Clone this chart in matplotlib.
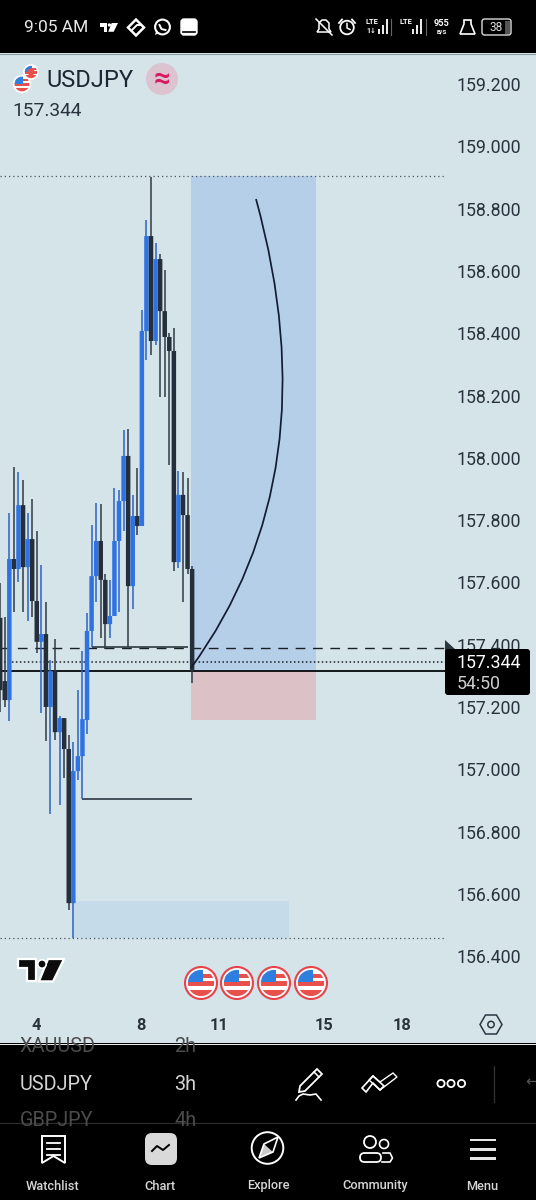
import matplotlib
matplotlib.use('Agg')
import matplotlib.pyplot as plt
import numpy as np
from matplotlib.patches import Circle, FancyBboxPatch, PathPatch, Polygon, Rectangle
from matplotlib.path import Path

plt.rcParams['font.family'] = ['Roboto', 'DejaVu Sans']

# 3h candles
opens = [157.486, 157.283, 157.222, 157.675, 157.643, 157.848, 157.649, 157.739, 157.540, 157.409, 157.434,
         157.200, 157.315, 157.119, 157.164, 157.065, 156.570, 156.994, 157.042, 157.158, 157.444, 157.620,
         157.733, 157.608, 157.466, 157.492, 157.733, 157.861, 158.006, 157.588, 157.813, 157.781, 158.407,
         158.712, 158.375, 158.638, 158.471, 158.388, 158.343, 157.665, 157.881, 157.816, 157.643]
highs = [157.598, 157.489, 157.823, 157.970, 157.954, 157.929, 157.823, 157.868, 157.765, 157.656, 157.537,
         157.351, 157.418, 157.171, 157.164, 157.110, 157.087, 157.254, 157.380, 157.502, 157.784, 157.855,
         157.852, 157.627, 157.608, 157.903, 157.897, 158.089, 158.092, 157.881, 157.967, 158.474, 158.763,
         158.901, 158.689, 158.654, 158.603, 158.401, 158.417, 157.958, 157.954, 157.935, 157.653]
lows = [157.184, 157.200, 157.155, 157.505, 157.601, 157.505, 157.476, 157.489, 157.373, 157.181, 157.091,
        156.856, 157.094, 156.885, 156.972, 156.548, 156.458, 156.965, 156.904, 157.113, 157.392, 157.537,
        157.421, 157.386, 157.421, 157.492, 157.505, 157.765, 157.392, 157.515, 157.752, 157.781, 158.314,
        158.330, 158.362, 158.195, 158.195, 157.977, 157.637, 157.646, 157.537, 157.627, 157.277]
closes = [157.254, 157.222, 157.675, 157.643, 157.848, 157.649, 157.739, 157.540, 157.409, 157.434, 157.200,
          157.315, 157.119, 157.164, 157.065, 156.570, 156.994, 157.042, 157.161, 157.444, 157.620, 157.733,
          157.608, 157.466, 157.492, 157.733, 157.861, 158.006, 157.588, 157.813, 157.781, 158.407, 158.712,
          158.375, 158.638, 158.471, 158.388, 158.343, 157.665, 157.881, 157.816, 157.643, 157.319]

price_ticks = [156.4, 156.6, 156.8, 157.0, 157.2, 157.4, 157.6, 157.8, 158.0, 158.2, 158.4, 158.6, 158.8, 159.0, 159.2]
date_bars = [7.8, 30.8, 47.9, 70.9, 87.9]
date_labels = ['4', '8', '11', '15', '18']

# levels and drawings
long_bars = [41.75, 69.1]
long_prices = [158.905, 157.318, 157.158]
zone_bars = [15.9, 63.2]
zone_prices = [156.458, 156.577]
upper_dotted = 158.905
lower_dotted = 156.458
dashed_level = 157.389
last_dotted = 157.344
solid_level = 157.316
seg1 = (20.0, 41.1, 157.394)
seg2 = (17.9, 41.9, 156.904)
curve_bars = [41.75, 72.6, 55.97]
curve_prices = [157.325, 157.948, 158.831]

BG = '#d5e4e8'
BLUE = '#2f72e2'
DARK = '#252f3b'
TXT = '#29333d'

fig = plt.figure(figsize=(5.36, 12), dpi=100, facecolor=BG)

# price pane, 54..1008 px down and 0..445 px across
ax = fig.add_axes([0, (1200 - 1008) / 1200, 445 / 536, (1008 - 54) / 1200], facecolor=BG, zorder=1)
ax.set_xlim(-0.044, 97.33)
ax.set_ylim(159.470 - 0.003211 * 1008, 159.470 - 0.003211 * 54)
for s in ax.spines.values():
    s.set_visible(False)

ax.add_patch(Rectangle((long_bars[0], long_prices[1]), long_bars[1] - long_bars[0], long_prices[0] - long_prices[1],
                       fc='#b5cfe8', ec='none', zorder=1))
ax.add_patch(Rectangle((long_bars[0], long_prices[2]), long_bars[1] - long_bars[0], long_prices[1] - long_prices[2],
                       fc='#dcc1c6', ec='none', zorder=1))
ax.add_patch(Rectangle((zone_bars[0], zone_prices[0]), zone_bars[1] - zone_bars[0], zone_prices[1] - zone_prices[0],
                       fc='#c5dbea', ec='none', zorder=1))

ax.axhline(upper_dotted, color='#4a5560', lw=0.9, ls=(0, (1, 2.4)), zorder=2)
ax.axhline(lower_dotted, color='#4a5560', lw=0.9, ls=(0, (1, 2.4)), zorder=2)
ax.axhline(dashed_level, color='#1a1f26', lw=1.0, ls=(0, (7, 5.5)), zorder=2)
ax.axhline(last_dotted, color='#1a1f26', lw=1.1, ls=(0, (1, 1.6)), zorder=2)
ax.axhline(solid_level, color='#12171c', lw=1.4, zorder=2)
ax.hlines(seg1[2], seg1[0], seg1[1], color='#1f2a33', lw=1.1, zorder=2)
ax.hlines(seg2[2], seg2[0], seg2[1], color='#2b3640', lw=1.2, zorder=2)

idx = np.arange(len(opens))
o = np.array(opens)
c = np.array(closes)
colors = [BLUE if b > a else DARK for a, b in zip(opens, closes)]
wick_colors = ['#2b62c4' if b > a else '#303a45' for a, b in zip(opens, closes)]
ax.vlines(idx, lows, highs, colors=wick_colors, lw=1.1, zorder=3)
bars = ax.bar(idx, np.abs(c - o), bottom=np.minimum(o, c), width=0.98, color=colors, linewidth=0, zorder=4)
for b in bars:
    b.set_snap(False)

curve = Path(list(zip(curve_bars, curve_prices)), [Path.MOVETO, Path.CURVE3, Path.CURVE3])
ax.add_patch(PathPatch(curve, fc='none', ec='#141c33', lw=1.25, zorder=5))

ax.yaxis.tick_right()
ax.set_yticks(price_ticks, [f'{p:.3f}' for p in price_ticks])
ax.set_xticks(date_bars, date_labels)
ax.tick_params(axis='y', length=0, pad=8.6, labelsize=12.8, labelcolor=TXT)
ax.tick_params(axis='x', length=0, pad=7, labelsize=11.8, labelcolor=TXT)
for t in ax.get_xticklabels():
    t.set_fontweight('bold')

# everything else on the screen, in plain pixels
ui = fig.add_axes([0, 0, 1, 1], zorder=2)
ui.set_xlim(0, 536)
ui.set_ylim(1200, 0)
ui.axis('off')
ui.patch.set_alpha(0)


def flag(cx, cy, r, ring='#e8424a', lw=1.5):
    ui.add_patch(Circle((cx, cy), r, fc='white', ec=ring, lw=lw, zorder=3))
    inner = Circle((cx, cy), r * 0.82, transform=ui.transData)
    parts = [Rectangle((cx - r, cy - r * 0.1), 2 * r, r * 0.3, fc='#e8504c', ec='none'),
             Rectangle((cx - r, cy + r * 0.42), 2 * r, r * 0.6, fc='#e8504c', ec='none'),
             Rectangle((cx - r, cy - r * 0.55), 2 * r, r * 0.22, fc='#e8504c', ec='none'),
             Rectangle((cx - r, cy - r), r * 1.15, r * 0.95, fc='#2f7fe0', ec='none')]
    for p in parts:
        ui.add_patch(p)
        p.set_zorder(4)
        p.set_clip_path(inner)


def tv_logo(x, y, s, color, edge=None):
    # s is the width of the logo
    k = s / 46.0
    ky = k * 1.12
    pts1 = [(0, 0), (18, 0), (18, 20), (9, 20), (9, 8), (0, 8)]
    pts2 = [(30, 0), (46, 0), (35, 20), (21, 20)]
    for pts in (pts1, pts2):
        ui.add_patch(Polygon([(x + a * k, y + b * ky) for a, b in pts], fc=color,
                             ec=edge if edge else color, lw=1.6 if edge else 0, zorder=5))
    ui.add_patch(Circle((x + 24 * k, y + 4.5 * ky), 4.2 * k, fc=color, ec=edge if edge else color,
                        lw=1.2 if edge else 0, zorder=5))


# status bar
ui.add_patch(Rectangle((0, 0), 536, 53, fc='black', ec='none'))
ui.plot([0, 536], [53.5, 53.5], color='#8fa0a5', lw=0.8)
ui.text(24.5, 27.5, '9:05 AM', color='#e8e8e8', fontsize=12.5, va='center')
tv_logo(100, 23, 18, 'white')
ui.add_patch(Polygon([(128, 27.5), (136, 19.5), (144, 27.5), (136, 35.5)], fc='none', ec='white', lw=1.8))
ui.plot([132, 137, 140], [30, 25, 25], color='white', lw=1.4)
ui.add_patch(Circle((162.5, 27), 7.4, fc='none', ec='white', lw=1.5))
ui.add_patch(Polygon([(155, 35), (156.5, 30), (159, 33)], fc='white', ec='none'))
ui.plot([159.5, 161.5, 165.5], [25, 29, 30], color='white', lw=1.4)
ui.add_patch(FancyBboxPatch((181, 19), 16, 16, boxstyle='round,pad=0,rounding_size=3', fc='white', ec='white', lw=1))
ui.plot([183, 195], [31.5, 31.5], color='black', lw=1.2)
# bell, alarm
ui.add_patch(Polygon([(317, 32), (319, 29), (319, 23), (322, 20), (326, 20), (329, 23), (329, 29), (331, 32)],
                     fc='none', ec='white', lw=1.1))
ui.plot([316, 332], [19, 35], color='white', lw=1.1)
ui.add_patch(Circle((347, 27.5), 6.8, fc='none', ec='white', lw=1.3))
ui.plot([347, 347, 350], [23.5, 28, 29.5], color='white', lw=1.1)
ui.plot([339, 342], [23, 19.5], color='white', lw=1.3)
ui.plot([352, 355], [19.5, 23], color='white', lw=1.3)
ui.text(365, 22, 'LTE', color='white', fontsize=5.4, va='center', fontweight='bold')
ui.text(366, 31, '1↓', color='white', fontsize=5, va='center', fontweight='bold')
ui.text(400, 22, 'LTE', color='white', fontsize=5.4, va='center', fontweight='bold')
for x0 in (378, 412):
    for i, h in enumerate((5, 9, 15)):
        ui.add_patch(Rectangle((x0 + i * 4, 34 - h), 2.2, h, fc='#e8e8e8', ec='none'))
ui.plot([391, 391], [19, 35], color='#666666', lw=0.8)
ui.plot([426, 426], [19, 35], color='#666666', lw=0.8)
ui.text(442, 23, '955', color='white', fontsize=6.6, ha='center', va='center', fontweight='bold')
ui.text(442, 32.5, 'B/S', color='white', fontsize=4.6, ha='center', va='center', fontweight='bold')
ui.add_patch(Polygon([(464, 20), (471, 20), (471, 24), (475, 34), (460, 34), (464, 24)], fc='none', ec='white', lw=1.2))
ui.add_patch(FancyBboxPatch((482, 19), 29, 16, boxstyle='round,pad=0,rounding_size=2.5', fc='black', ec='#dddddd', lw=1))
ui.add_patch(Rectangle((505, 20.5), 5, 13, fc='#555555', ec='none'))
ui.text(496, 27.5, '38', color='#dddddd', fontsize=8.6, ha='center', va='center')

# header
flag(31, 72, 7.5, ring='white', lw=0.5)
ui.add_patch(Circle((31, 72), 3.6, fc='#e8504c', ec='none', zorder=5))
flag(22, 84, 9, ring='#f4f4f4', lw=0.5)
ui.text(46, 80.5, 'USDJPY', color='#1c2733', fontsize=17, va='center')
ui.text(12, 110.5, '157.344', color=TXT, fontsize=13.8, va='center')
ui.add_patch(Circle((162, 79), 16, fc='#dcc3d0', ec='none'))
ui.text(162, 78.5, '≈', color='#d81b60', fontsize=21, ha='center', va='center', fontweight='bold')

# last price tag
ui.add_patch(Polygon([(445, 640), (456, 650), (445, 652)], fc='#2b3640', ec='none'))
ui.add_patch(FancyBboxPatch((445, 649), 85, 46, boxstyle='round,pad=0,rounding_size=3', fc='black', ec='none'))
ui.text(457, 663, '157.344', color='white', fontsize=12.8, va='center')
ui.text(457, 684, '54:50', color='#cfcfcf', fontsize=12.8, va='center')

# logo, event flags, settings
tv_logo(18, 959, 46, '#0c0c0c', edge='white')
for fx in (201, 237, 274, 311):
    flag(fx, 983, 16)
ui.add_patch(Polygon([(480, 1024.5), (485.5, 1015), (496.5, 1015), (502, 1024.5), (496.5, 1034), (485.5, 1034)],
                     fc='none', ec='#2b3640', lw=1.1))
ui.add_patch(Circle((491, 1024.5), 3.2, fc='none', ec='#2b3640', lw=1.1))

# bottom bars
ui.add_patch(Rectangle((0, 1043), 536, 157, fc='black', ec='none'))
ui.plot([0, 536], [1043.5, 1043.5], color='#f2f2f2', lw=0.7)
ui.plot([0, 536], [1122.5, 1122.5], color='#2c2c2c', lw=0.9)
ui.text(19.5, 1084, 'USDJPY', color='#d4d4d4', fontsize=14.3, va='center')
ui.text(174, 1084, '3h', color='#d4d4d4', fontsize=14.3, va='center')
band_top = Rectangle((0, 1045), 300, 77, transform=ui.transData)
for label, lx, ly in [('XAUUSD', 19.5, 1047), ('2h', 174, 1047), ('GBPJPY', 19.5, 1121), ('4h', 174, 1121)]:
    t = ui.text(lx, ly, label, color='#4c4c4c', fontsize=14.3, va='center')
    t.set_clip_path(band_top)

# pencil
ui.add_patch(Polygon([(300, 1086), (317, 1069), (322, 1074), (305, 1091), (299, 1092)], fc='none', ec='white', lw=1.3))
ui.plot([314, 319], [1072, 1077], color='white', lw=1.1)
ui.plot([296, 299, 303, 310, 316, 321], [1100, 1096, 1094, 1095, 1094, 1100], color='white', lw=1.2)
# chevrons
ui.add_patch(Polygon([(362, 1088), (373, 1076), (384, 1086), (380, 1090), (373, 1083), (366, 1092)],
                     fc='none', ec='white', lw=1.2))
ui.add_patch(Polygon([(373, 1076), (380, 1082), (393, 1073), (397, 1077), (380, 1090), (369, 1080)],
                     fc='none', ec='white', lw=1.0))
for dx in (441, 451, 461.5):
    ui.add_patch(Circle((dx, 1083.5), 3.6, fc='none', ec='white', lw=1.3))
ui.plot([493.5, 493.5], [1066, 1102], color='#333333', lw=0.9)
ui.text(525, 1082, '←', color='#555555', fontsize=11, va='center', family=['DejaVu Sans'])

# tab bar
tabs = ['Watchlist', 'Chart', 'Explore', 'Community', 'Menu']
tab_x = [53, 160, 268, 375, 482]
for name, x in zip(tabs, tab_x):
    ui.text(x, 1186, name, color='#d6d6d6', fontsize=9.2, ha='center', va='center', fontweight='medium')

ui.add_patch(Polygon([(42, 1136), (65, 1136), (65, 1163), (53.5, 1156), (42, 1163)], fc='none', ec='white', lw=1.4))
for ly in (1143, 1149, 1155):
    ui.plot([47, 60], [ly, ly], color='white', lw=1.3)
ui.add_patch(FancyBboxPatch((145, 1133), 32, 32, boxstyle='round,pad=0,rounding_size=7', fc='#d9d9d9', ec='none'))
ui.plot([152, 157, 163, 169], [1151, 1146, 1150, 1145], color='black', lw=1.4)
ui.add_patch(Circle((267.5, 1148), 15.8, fc='none', ec='white', lw=1.4))
ui.add_patch(Polygon([(278, 1137), (273, 1152), (259, 1158), (264, 1144)], fc='none', ec='white', lw=1.2))
ui.add_patch(Polygon([(259, 1158), (264, 1144), (273, 1152)], fc='white', ec='none', alpha=0.8))
ui.add_patch(Circle((370, 1142), 6, fc='none', ec='white', lw=1.3))
ui.add_patch(Circle((384, 1144), 4.5, fc='none', ec='white', lw=1.2))
ui.add_patch(FancyBboxPatch((360, 1153), 21, 9, boxstyle='round,pad=0,rounding_size=4.5', fc='none', ec='white', lw=1.3))
ui.plot([383, 390, 392.5, 390, 382], [1153, 1153, 1158, 1162, 1162], color='white', lw=1.2)
for ly in (1140, 1149.5, 1158.5):
    ui.add_patch(Rectangle((470, ly - 1.4), 26, 2.8, fc='#e6e6e6', ec='none'))

fig.savefig('out.png', dpi=100, facecolor=BG)
